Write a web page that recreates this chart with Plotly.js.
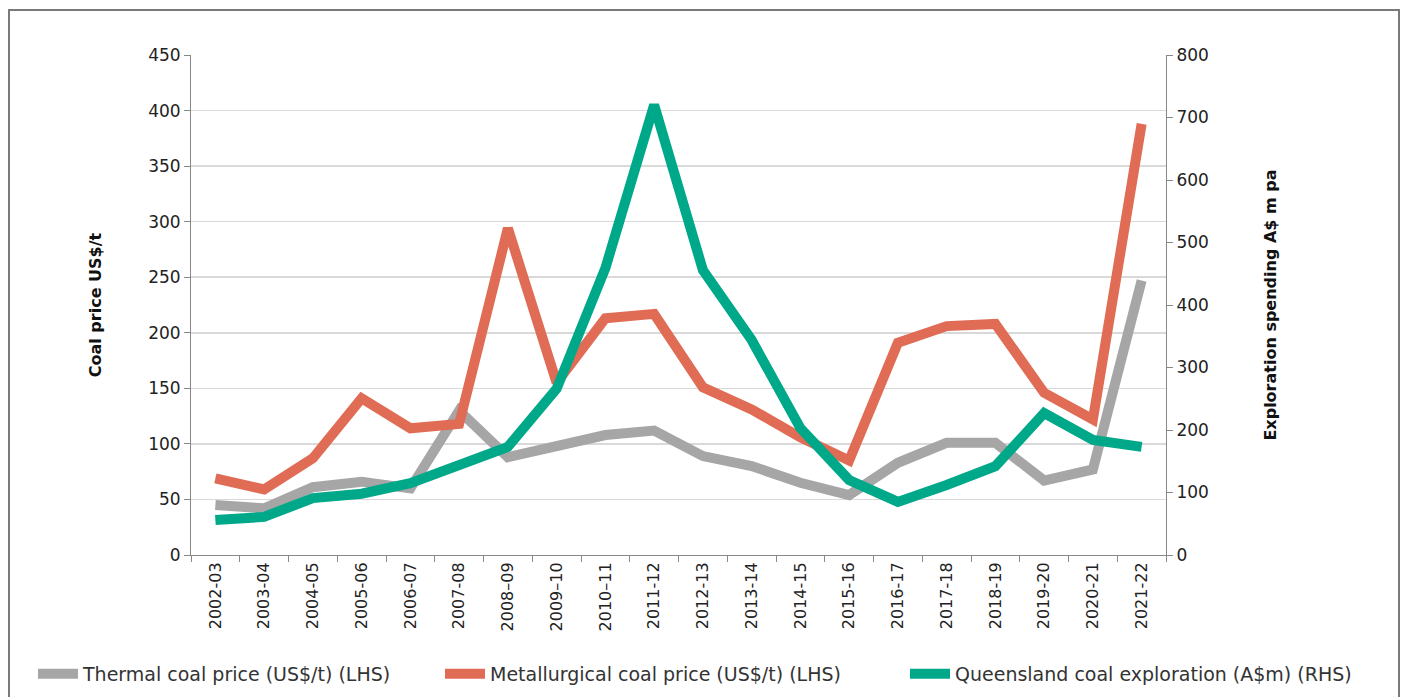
<!DOCTYPE html>
<html><head><meta charset="utf-8">
<script src="https://cdn.plot.ly/plotly-3.0.1.min.js"></script>
<style>
body{margin:0;padding:0;background:#fff;}
#chart{width:1402px;height:697px;}
#frame{position:absolute;left:8px;top:9px;width:1388px;height:700px;border:2px solid #7a7a7a;pointer-events:none;}
</style></head>
<body>
<div id="chart"></div>
<div id="frame"></div>
<script>
const categories = ["2002-03","2003-04","2004-05","2005-06","2006-07","2007-08","2008\u201309","2009\u201310","2010\u201311","2011-12","2012-13","2013-14","2014-15","2015-16","2016-17","2017-18","2018-19","2019-20","2020-21","2021-22"];
const thermal = [45,42,61,66,60,130,88,97,108,112,89,80,65,54,83,101,101,67,77,247];
const metallurgical = [69,59,87,141,114,118,294,155,213,217,151,131,106,85,191,206,208,146,122,388];
const exploration = [56,61,91,98,115,142,173,266,459,720,456,344,203,120,85,112,142,227,184,173];

const font = "'DejaVu Sans', sans-serif";
const traces = [
  {x:categories, y:thermal, name:"Thermal coal price (US$/t) (LHS)", type:"scatter", mode:"lines",
   line:{color:"#A6A6A6", width:10}, legend:"legend"},
  {x:categories, y:metallurgical, name:"Metallurgical coal price (US$/t) (LHS)", type:"scatter", mode:"lines",
   line:{color:"#E06C55", width:10}, legend:"legend2"},
  {x:categories, y:exploration, name:"Queensland coal exploration (A$m) (RHS)", type:"scatter", mode:"lines",
   line:{color:"#00A88A", width:10}, yaxis:"y2", legend:"legend3"}
];
function leg(x){
  return {orientation:"h", xref:"container", yref:"container", x:x, y:0.033, xanchor:"left", yanchor:"middle",
          font:{size:19, color:"#333"}, itemwidth:40, bgcolor:"rgba(0,0,0,0)"};
}
const layout = {
  width:1402, height:697,
  margin:{l:191, r:236, t:55, b:142},
  paper_bgcolor:"#fff", plot_bgcolor:"#fff",
  font:{family:font, color:"#222", size:16},
  showlegend:true,
  legend:leg(33/1402),
  legend2:leg(440/1402),
  legend3:leg(905/1402),
  xaxis:{type:"category", tickangle:-90, tickson:"boundaries", ticks:"outside", ticklen:6, tickcolor:"#888",
         showline:true, linecolor:"#888", linewidth:1, showgrid:false, tickfont:{size:16},
         range:[-0.5,19.5]},
  yaxis:{range:[0,450], dtick:50, ticks:"outside", ticklen:6, tickcolor:"#888", showline:true, linecolor:"#888",
         gridcolor:"#D9D9D9", gridwidth:1.5, zeroline:false, tickfont:{size:17},
         title:{text:"<b>Coal price US$/t</b>", font:{size:16, color:"#111"}, standoff:42}},
  yaxis2:{range:[0,800], dtick:100, overlaying:"y", side:"right", ticks:"outside", ticklen:6, tickcolor:"#888",
          showline:true, linecolor:"#888", showgrid:false, zeroline:false, tickfont:{size:17},
          title:{text:"<b>Exploration spending A$ m pa</b>", font:{size:16, color:"#111"}, standoff:56}}
};
Plotly.newPlot("chart", traces, layout, {displayModeBar:false, staticPlot:true});
</script>
</body></html>
